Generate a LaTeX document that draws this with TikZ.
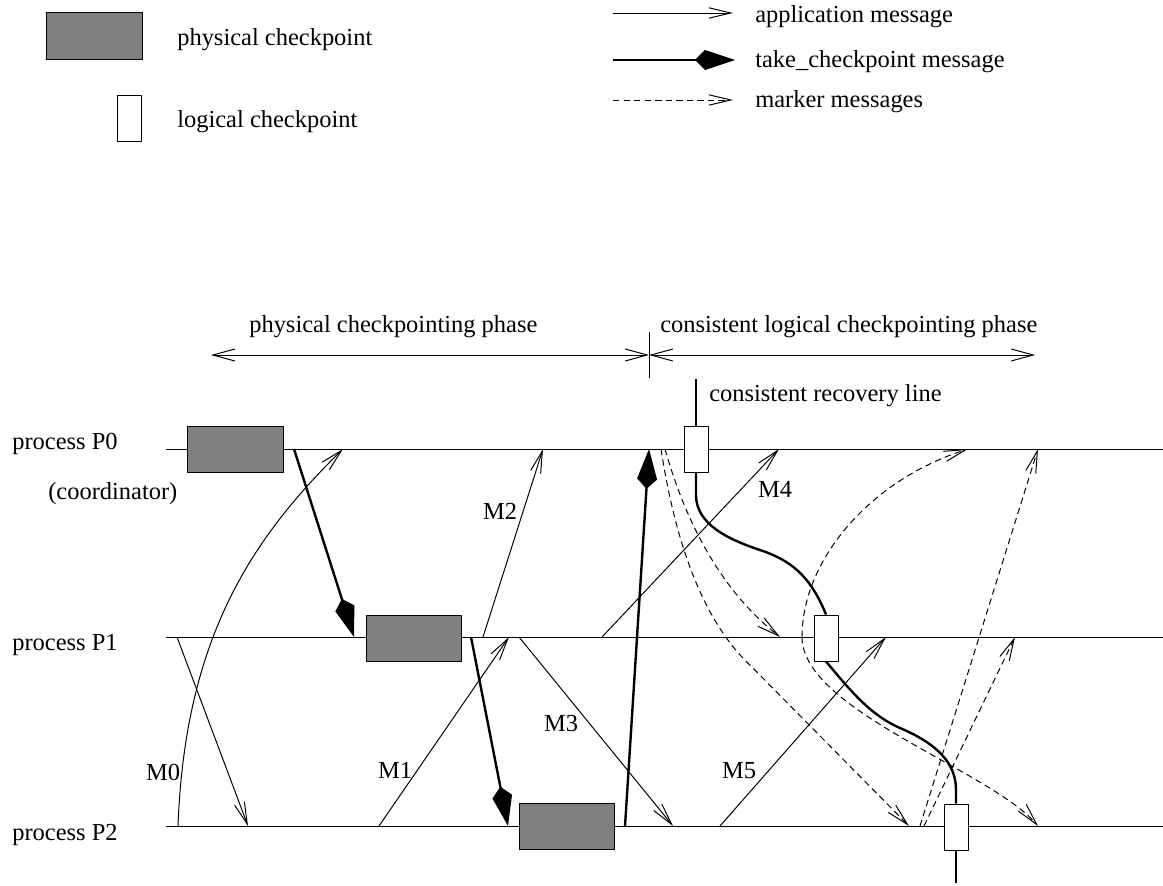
\documentclass[tikz,border=0pt]{standalone}
\usepackage{fontspec}
\setmainfont{Liberation Serif}
\usetikzlibrary{arrows.meta}
\definecolor{ckptGray}{HTML}{808080}
\definecolor{ckptInk}{HTML}{000000}

\begin{document}
\begin{tikzpicture}[x=0.025cm, y=-0.025cm, line join=round,
  font=\fontsize{17.4}{20}\selectfont,
  procLine/.style={ckptInk, line width=0.7pt},
  appMsg/.style={ckptInk, line width=0.7pt, -{Straight Barb[length=5.5mm,width=2.6mm]}},
  takeMsg/.style={ckptInk, line width=1.7pt, -{Kite[length=10mm,width=5mm,inset=2.5mm]}},
  markMsg/.style={ckptInk, line width=0.7pt, dash pattern=on 4.5pt off 3pt, -{Straight Barb[length=5.5mm,width=2.6mm]}},
  phaseArr/.style={ckptInk, line width=0.7pt, {Straight Barb[length=5.5mm,width=3mm]}-{Straight Barb[length=5.5mm,width=3mm]}},
  recLine/.style={ckptInk, line width=1.7pt},
  physBox/.style={draw=ckptInk, line width=0.7pt, fill=ckptGray, minimum width=2.375cm, minimum height=1.15cm, inner sep=0pt},
  logBox/.style={draw=ckptInk, line width=0.7pt, fill=white, minimum width=0.6cm, minimum height=1.15cm, inner sep=0pt},
  txt/.style={anchor=west, inner sep=0pt}]
  \useasboundingbox (0,0) rectangle (1163,886);

  % legend
  \node[physBox] (legPhys) at (94.5,36) {};
  \node[txt] (legPhysTxt) at (177,40) {physical checkpoint};
  \node[logBox] (legLog) at (129.5,118.5) {};
  \node[txt] (legLogTxt) at (177,122) {logical checkpoint};
  \coordinate (legA0) at (613,13);  \coordinate (legA1) at (733,13);
  \coordinate (legT0) at (613,60);  \coordinate (legT1) at (735,60);
  \coordinate (legK0) at (613,100); \coordinate (legK1) at (733,100);
  \draw[appMsg] (legA0) -- (legA1);
  \draw[takeMsg] (legT0) -- (legT1);
  \draw[markMsg] (legK0) -- (legK1);
  \node[txt] (legAppTxt) at (755,17) {application message};
  \node[txt] (legTakeTxt) at (755,62) {take\_checkpoint message};
  \node[txt] (legMarkTxt) at (755,102) {marker messages};

  % phases
  \coordinate (phL) at (211,355); \coordinate (phM) at (649,355); \coordinate (phR) at (1035,355);
  \coordinate (divTop) at (649,332); \coordinate (divBot) at (649,378);
  \draw[phaseArr] (phL) -- (phM);
  \draw[phaseArr] (phM) -- (phR);
  \draw[procLine] (divTop) -- (divBot);
  \node[txt] (phPhysTxt) at (249,327) {physical checkpointing phase};
  \node[txt] (phLogTxt) at (660,327) {consistent logical checkpointing phase};

  % process lines
  \foreach \p/\y/\ly in {0/449/449, 1/637/650, 2/826/840}{%
    \coordinate (p\p a) at (166,\y);
    \coordinate (p\p b) at (1163,\y);
    \draw[procLine] (p\p a) -- (p\p b);
    \node[txt, anchor=base west] (lblP\p) at (12,\ly) {process P\p};
  }
  \node[txt, anchor=base west] (lblCoord) at (48,499) {(coordinator)};

  % application messages
  \coordinate (m0s) at (178,826); \coordinate (m0t) at (343,449);
  \coordinate (a1s) at (177,637); \coordinate (a1t) at (248,826);
  \coordinate (m1s) at (379,826); \coordinate (m1t) at (509,637);
  \coordinate (m2s) at (483,637); \coordinate (m2t) at (543,449);
  \coordinate (m3s) at (519,637); \coordinate (m3t) at (673,826);
  \coordinate (m4s) at (602,637); \coordinate (m4t) at (779,449);
  \coordinate (m5s) at (720,826); \coordinate (m5t) at (886,637);
  \draw[appMsg] (m0s) .. controls (185,640) and (250,540) .. (m0t);
  \foreach \a/\b in {a1s/a1t, m1s/m1t, m2s/m2t, m3s/m3t, m4s/m4t, m5s/m5t}
    \draw[appMsg] (\a) -- (\b);
  \foreach \n/\x/\y in {M0/163/772, M1/395/770, M2/500/511, M3/561/724, M4/775/489, M5/739/771}
    \node (lbl\n) at (\x,\y) {\n};

  % take_checkpoint messages
  \coordinate (t0s) at (294,449); \coordinate (t0t) at (354,637);
  \coordinate (t1s) at (471,637); \coordinate (t1t) at (508,826);
  \coordinate (t2s) at (625,826); \coordinate (t2t) at (649,449);
  \foreach \a/\b in {t0s/t0t, t1s/t1t, t2s/t2t}
    \draw[takeMsg] (\a) -- (\b);

  % marker messages
  \coordinate (k0s) at (665,449); \coordinate (k0t) at (780,637);
  \coordinate (k1s) at (661,449); \coordinate (k1t) at (909,826);
  \coordinate (k2s) at (802,637); \coordinate (k2t) at (968,449); \coordinate (k3t) at (1038,826);
  \coordinate (k4s) at (920,826); \coordinate (k4t) at (1038,449);
  \coordinate (k5s) at (924,826); \coordinate (k5t) at (1015,637);
  \draw[markMsg] (k0s) .. controls (685,520) and (720,590) .. (k0t);
  \draw[markMsg] (k1s) .. controls (675,540) and (700,610) .. (740,655) -- (k1t);
  \draw[markMsg] (k2s) .. controls (802,560) and (870,480) .. (k2t);
  \draw[markMsg] (k2s) .. controls (802,710) and (990,770) .. (k3t);
  \draw[markMsg] (k4s) -- (k4t);
  \draw[markMsg] (k5s) -- (k5t);

  % checkpoints
  \node[physBox] (phys0) at (235.5,449) {};
  \node[physBox] (phys1) at (413.5,638) {};
  \node[physBox] (phys2) at (566.5,826.5) {};
  \node[logBox] (log0) at (696,449) {};
  \node[logBox] (log1) at (826,638) {};
  \node[logBox] (log2) at (956,827) {};

  % recovery line
  \coordinate (recTop) at (696,379); \coordinate (recBot) at (956,883);
  \draw[recLine] (recTop) -- (log0.north);
  \draw[recLine] (log0.south) -- (696,495) .. controls (696,525) and (730,540) .. (760,550)
    .. controls (790,560) and (810,575) .. (log1.north);
  \draw[recLine] (log1.south) .. controls (850,690) and (870,715) .. (900,728)
    .. controls (940,745) and (956,765) .. (956,790) -- (log2.north);
  \draw[recLine] (log2.south) -- (recBot);
  \node[txt] (recTxt) at (709,396) {consistent recovery line};
\end{tikzpicture}
\end{document}
